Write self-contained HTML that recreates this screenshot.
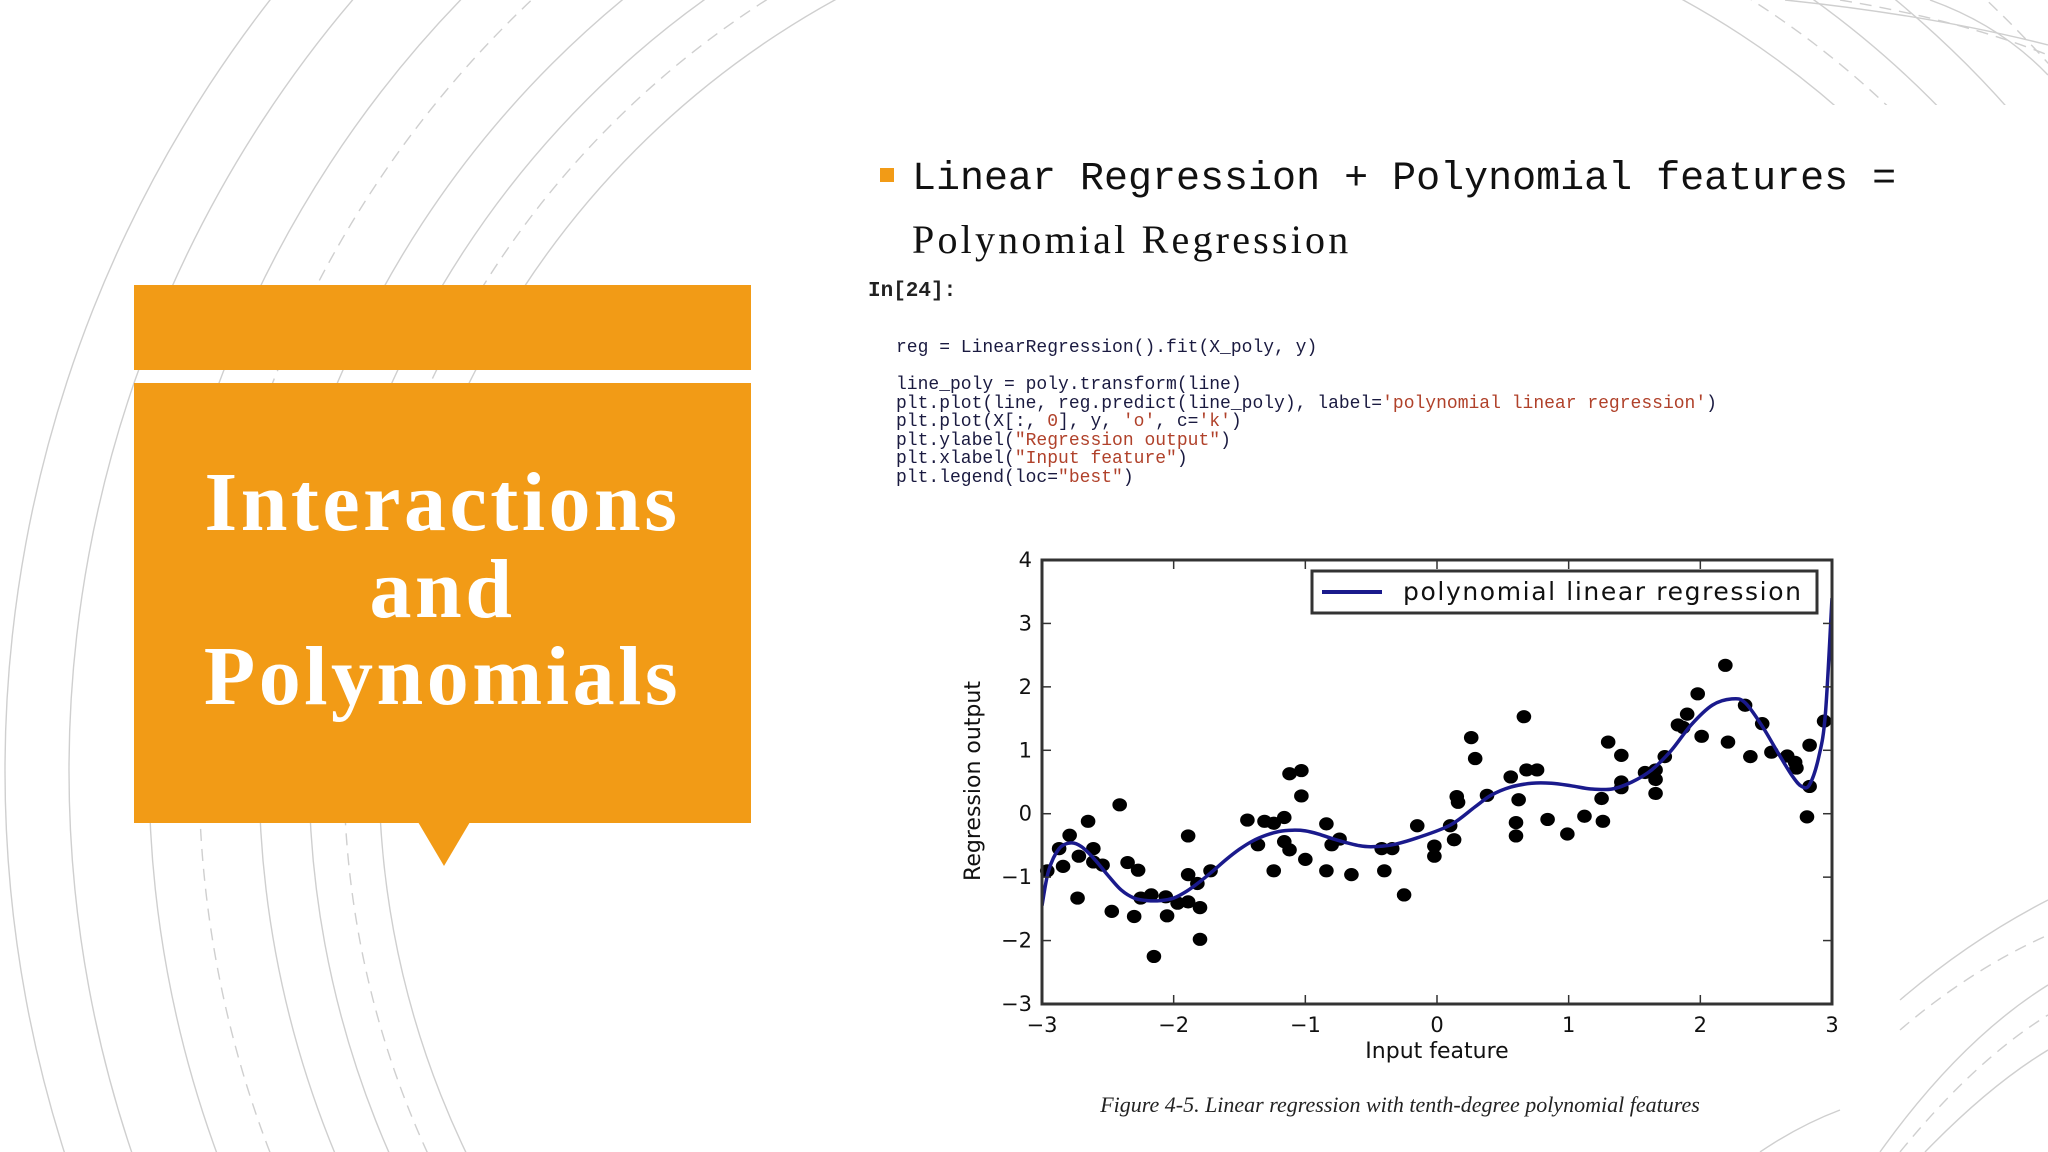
<!DOCTYPE html>
<html><head><meta charset="utf-8">
<style>
html,body{margin:0;padding:0;background:#fff;overflow:hidden;}
body{width:2048px;height:1152px;position:relative;overflow:hidden;font-family:"Liberation Sans",sans-serif;}
.abs{position:absolute;}
.code{font-family:"Liberation Mono",monospace;font-size:18px;color:#1a1a40;white-space:pre;line-height:18.5px;}
.s{color:#b0412a;}
</style></head>
<body>
<svg id="bg" class="abs" style="left:0;top:0" width="2048" height="1152">
  <g fill="none" stroke="#cfcfcf" stroke-width="1.4">
    <circle cx="1259" cy="771" r="880"/>
    <circle cx="1259" cy="771" r="915" stroke-dasharray="12 8"/>
    <circle cx="1259" cy="771" r="950"/>
    <circle cx="1259" cy="771" r="1000"/>
    <circle cx="1259" cy="771" r="1060" stroke-dasharray="12 8"/>
    <circle cx="1259" cy="771" r="1110"/>
    <circle cx="1259" cy="771" r="1190"/>
    <circle cx="1259" cy="771" r="1254"/>
  </g>
  <rect x="862" y="105" width="1186" height="1047" fill="#fff"/>
  <g fill="none" stroke="#cfcfcf" stroke-width="1.4">
    <path d="M1785 0 Q1930 15 2048 45"/>
    <path d="M1840 0 Q1960 20 2048 55" stroke-dasharray="12 8"/>
    <path d="M1930 0 Q2000 25 2048 75"/>
    <path d="M1880 1152 Q1960 1040 2048 985"/>
    <path d="M1900 1152 Q1975 1060 2048 1015" stroke-dasharray="12 8"/>
    <path d="M1925 1152 Q1990 1085 2048 1050"/>
    <path d="M1900 1000 Q1970 940 2048 900"/>
    <path d="M1900 1030 Q1970 970 2048 935" stroke-dasharray="12 8"/>
    <path d="M1760 1152 Q1800 1125 1840 1110"/>
  </g>
</svg>
<div class="abs" style="left:134px;top:285px;width:617px;height:85px;background:#f29b16"></div>
<div class="abs" style="left:134px;top:383px;width:617px;height:440px;background:#f29b16"></div>
<div class="abs" style="left:418px;top:822px;width:0;height:0;border-left:26px solid transparent;border-right:26px solid transparent;border-top:44px solid #f29b16"></div>
<div class="abs" style="left:134px;top:459px;width:617px;text-align:center;color:#fff;font-family:'Liberation Serif',serif;font-weight:bold;font-size:84px;letter-spacing:3.5px;line-height:87px">Interactions<br>and<br>Polynomials</div>

<div class="abs" style="left:880px;top:168px;width:14px;height:14px;background:#f29b16"></div>
<div class="abs" style="left:912px;top:156px;font-family:'Liberation Mono',monospace;font-size:40px;color:#111;line-height:48px;white-space:nowrap">Linear Regression + Polynomial features =</div>
<div class="abs" style="left:912px;top:214px;font-family:'Liberation Serif',serif;font-size:40px;letter-spacing:3.2px;color:#111;line-height:52px;white-space:nowrap">Polynomial Regression</div>

<div class="abs" style="left:868px;top:280px;font-family:'Liberation Mono',monospace;font-weight:bold;font-size:21px;color:#222">In[24]:</div>
<div class="abs code" style="left:896px;top:339px">reg = LinearRegression().fit(X_poly, y)

line_poly = poly.transform(line)
plt.plot(line, reg.predict(line_poly), label=<span class="s">'polynomial linear regression'</span>)
plt.plot(X[:, <span class="s">0</span>], y, <span class="s">'o'</span>, c=<span class="s">'k'</span>)
plt.ylabel(<span class="s">"Regression output"</span>)
plt.xlabel(<span class="s">"Input feature"</span>)
plt.legend(loc=<span class="s">"best"</span>)</div>

<svg id="chart" class="abs" style="left:0;top:0" width="2048" height="1152"></svg>

<div class="abs" style="left:1000px;width:800px;top:1092px;text-align:center;font-family:'Liberation Serif',serif;font-style:italic;font-size:22px;color:#222;white-space:nowrap">Figure 4-5. Linear regression with tenth-degree polynomial features</div>

<script>
const pointX=[-2.96,-2.87,-2.84,-2.79,-2.73,-2.72,-2.65,-2.61,-2.61,-2.54,-2.47,-2.41,-2.35,-2.30,-2.27,-2.25,-2.17,-2.15,-2.06,-2.05,-1.97,-1.89,-1.89,-1.89,-1.82,-1.80,-1.80,-1.72,-1.44,-1.36,-1.31,-1.24,-1.24,-1.16,-1.16,-1.12,-1.12,-1.03,-1.03,-1.00,-0.84,-0.84,-0.80,-0.74,-0.65,-0.42,-0.40,-0.34,-0.25,-0.15,-0.02,-0.02,0.10,0.13,0.15,0.16,0.26,0.29,0.38,0.56,0.62,0.60,0.60,0.66,0.68,0.76,0.84,0.99,1.12,1.25,1.26,1.30,1.40,1.40,1.40,1.58,1.66,1.66,1.66,1.73,1.83,1.87,1.90,1.98,2.01,2.19,2.21,2.34,2.38,2.47,2.54,2.66,2.72,2.73,2.81,2.83,2.83,2.94];
const pointY=[-0.90,-0.55,-0.83,-0.34,-1.33,-0.67,-0.12,-0.55,-0.76,-0.81,-1.54,0.14,-0.77,-1.62,-0.89,-1.33,-1.28,-2.25,-1.31,-1.61,-1.41,-1.39,-0.35,-0.96,-1.10,-1.48,-1.98,-0.90,-0.10,-0.49,-0.12,-0.15,-0.90,-0.06,-0.44,0.63,-0.57,0.68,0.28,-0.72,-0.16,-0.90,-0.49,-0.40,-0.96,-0.55,-0.90,-0.55,-1.28,-0.19,-0.51,-0.67,-0.19,-0.41,0.27,0.18,1.20,0.87,0.29,0.58,0.22,-0.14,-0.35,1.53,0.69,0.69,-0.09,-0.32,-0.04,0.24,-0.12,1.13,0.92,0.50,0.41,0.65,0.69,0.54,0.32,0.90,1.40,1.36,1.57,1.89,1.22,2.34,1.13,1.71,0.90,1.42,0.97,0.91,0.81,0.72,-0.05,0.43,1.08,1.46];
const curveX=[-3,-2.95,-2.87,-2.78,-2.7,-2.6,-2.5,-2.4,-2.3,-2.2,-2.1,-2.0,-1.9,-1.8,-1.7,-1.6,-1.5,-1.4,-1.3,-1.2,-1.1,-1.0,-0.9,-0.8,-0.7,-0.6,-0.5,-0.34,-0.15,0.10,0.29,0.41,0.56,0.72,0.87,1.02,1.17,1.33,1.48,1.63,1.78,1.93,2.09,2.24,2.34,2.47,2.59,2.70,2.77,2.83,2.90,2.95,3.0];
const curveY=[-1.45,-0.9,-0.55,-0.46,-0.52,-0.72,-0.97,-1.2,-1.33,-1.37,-1.37,-1.33,-1.22,-1.07,-0.9,-0.72,-0.56,-0.43,-0.34,-0.28,-0.26,-0.27,-0.32,-0.39,-0.45,-0.5,-0.52,-0.49,-0.38,-0.18,0.11,0.29,0.42,0.48,0.48,0.44,0.39,0.39,0.50,0.69,1.00,1.40,1.71,1.81,1.75,1.38,0.96,0.59,0.43,0.46,0.90,1.58,3.4];
const xTicks=[-3,-2,-1,0,1,2,3];
const yTicks=[-3,-2,-1,0,1,2,3,4];
const xTickLabels=["\u22123","\u22122","\u22121","0","1","2","3"];
const yTickLabels=["\u22123","\u22122","\u22121","0","1","2","3","4"];

const L=1042,R=1832,T=560,B=1004;
const sx=v=>L+(v+3)/6*(R-L);
const sy=v=>B-(v+3)/7*(B-T);
const svg=document.getElementById('chart');
const NS='http://www.w3.org/2000/svg';
function mk(tag,attrs,parent){const e=document.createElementNS(NS,tag);for(const k in attrs)e.setAttribute(k,attrs[k]);(parent||svg).appendChild(e);return e;}
const font='"DejaVu Sans","Liberation Sans",sans-serif';

const gDots=mk('g',{});


pointX.forEach((x,i)=>{const c=mk('ellipse',{cx:sx(x),cy:sy(pointY[i]),rx:7.3,ry:6.6,fill:'#000'},gDots);

});

const defs=mk('defs',{});
const cp=mk('clipPath',{id:'cp'},defs);
mk('rect',{x:L,y:T,width:R-L,height:B-T},cp);
const P=curveX.map((x,i)=>[sx(x),sy(curveY[i])]);
let d='M'+P[0][0]+','+P[0][1];
for(let i=0;i<P.length-1;i++){const p0=P[Math.max(0,i-1)],p1=P[i],p2=P[i+1],p3=P[Math.min(P.length-1,i+2)];
const c1=[p1[0]+(p2[0]-p0[0])/6,p1[1]+(p2[1]-p0[1])/6],c2=[p2[0]-(p3[0]-p1[0])/6,p2[1]-(p3[1]-p1[1])/6];
d+=` C${c1[0]},${c1[1]} ${c2[0]},${c2[1]} ${p2[0]},${p2[1]}`;}
const curve=mk('path',{d:d,fill:'none',stroke:'#1a1a8c','stroke-width':3.5,'clip-path':'url(#cp)'});



const frame=mk('rect',{x:L,y:T,width:R-L,height:B-T,fill:'none',stroke:'#333','stroke-width':3});



xTicks.forEach((v,i)=>{const x=sx(v);
mk('line',{x1:x,y1:B,x2:x,y2:B-9,stroke:'#333','stroke-width':1.5});
mk('line',{x1:x,y1:T,x2:x,y2:T+9,stroke:'#333','stroke-width':1.5});
const t=mk('text',{x:x,y:B+28,'text-anchor':'middle','font-size':21,'font-family':font,fill:'#111'});t.textContent=xTickLabels[i];

});
yTicks.forEach((v,i)=>{const y=sy(v);
mk('line',{x1:L,y1:y,x2:L+9,y2:y,stroke:'#333','stroke-width':1.5});
mk('line',{x1:R,y1:y,x2:R-9,y2:y,stroke:'#333','stroke-width':1.5});
const t=mk('text',{x:L-10,y:y+7,'text-anchor':'end','font-size':21,'font-family':font,fill:'#111'});t.textContent=yTickLabels[i];

});

const xl=mk('text',{x:1437,y:1058,'text-anchor':'middle','font-size':22,'font-family':font,fill:'#111'});xl.textContent='Input feature';


const yl=mk('text',{x:0,y:0,'text-anchor':'middle','font-size':22,'font-family':font,fill:'#111',transform:'translate(980,781) rotate(-90)'});yl.textContent='Regression output';



const lg=mk('g',{});


mk('rect',{x:1312,y:571,width:505,height:42,fill:'#fff',stroke:'#333','stroke-width':3},lg);
mk('line',{x1:1322,y1:592,x2:1382,y2:592,stroke:'#1a1a8c','stroke-width':4},lg);
const lt=mk('text',{x:1403,y:600,'font-size':25,'font-family':font,fill:'#111','textLength':398},lg);lt.textContent='polynomial linear regression';


</script>
</body></html>
